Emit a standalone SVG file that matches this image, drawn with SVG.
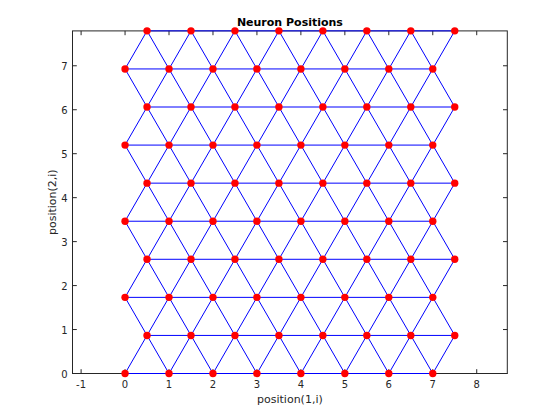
<svg xmlns="http://www.w3.org/2000/svg" width="560" height="420" viewBox="0 0 560 420">
<style>
text{font-family:"DejaVu Sans","Liberation Sans",sans-serif;fill:#262626}
.tk{font-size:10px}
.xt{text-anchor:middle}
.yt{text-anchor:end}
.lb{font-size:11px;text-anchor:middle}
.ttl{font-size:11px;font-weight:bold;text-anchor:middle;fill:#000}
.ax{stroke:#262626;stroke-width:1;fill:none}
.e{stroke:#0000ff;stroke-width:1;fill:none}
.n{fill:#ff0000}
</style>
<rect width="560" height="420" fill="#fff"/>
<g id="axes">
<rect class="ax" x="72.5" y="30.9" width="434.8" height="342.6"/>
<path class="ax" d="M81.1,373.5v-4.3M125.05,373.5v-4.3M169.01,373.5v-4.3M212.97,373.5v-4.3M256.93,373.5v-4.3M300.89,373.5v-4.3M344.85,373.5v-4.3M388.81,373.5v-4.3M432.77,373.5v-4.3M476.73,373.5v-4.3M81.1,30.9v4.3M125.05,30.9v4.3M169.01,30.9v4.3M212.97,30.9v4.3M256.93,30.9v4.3M300.89,30.9v4.3M344.85,30.9v4.3M388.81,30.9v4.3M432.77,30.9v4.3M476.73,30.9v4.3M72.5,373.5h4.3M72.5,329.54h4.3M72.5,285.58h4.3M72.5,241.62h4.3M72.5,197.66h4.3M72.5,153.7h4.3M72.5,109.74h4.3M72.5,65.78h4.3M507.3,373.5h-4.3M507.3,329.54h-4.3M507.3,285.58h-4.3M507.3,241.62h-4.3M507.3,197.66h-4.3M507.3,153.7h-4.3M507.3,109.74h-4.3M507.3,65.78h-4.3"/>
<g class="tk xt">
<text x="81.1" y="387.5">-1</text><text x="125.05" y="387.5">0</text><text x="169.01" y="387.5">1</text><text x="212.97" y="387.5">2</text><text x="256.93" y="387.5">3</text><text x="300.89" y="387.5">4</text><text x="344.85" y="387.5">5</text><text x="388.81" y="387.5">6</text><text x="432.77" y="387.5">7</text><text x="476.73" y="387.5">8</text>
</g>
<g class="tk yt">
<text x="67.5" y="377.5">0</text><text x="67.5" y="333.5">1</text><text x="67.5" y="289.6">2</text><text x="67.5" y="245.6">3</text><text x="67.5" y="201.7">4</text><text x="67.5" y="157.7">5</text><text x="67.5" y="113.7">6</text><text x="67.5" y="69.8">7</text>
</g>
<text class="ttl" x="289.9" y="25.7">Neuron Positions</text>
<text class="lb" x="289.9" y="403">position(1,i)</text>
<text class="lb" transform="translate(55.5,202.2) rotate(-90)">position(2,i)</text>
</g>
<g id="connectors" class="e">
<path d="M125.05,373.5H432.77M147.03,335.43H454.75M125.05,297.36H432.77M147.03,259.29H454.75M125.05,221.22H432.77M147.03,183.15H454.75M125.05,145.08H432.77M147.03,107.01H454.75M125.05,68.94H432.77M147.03,30.87H454.75"/>
<polyline points="125.05,373.5 147.03,335.43 169.01,373.5 190.99,335.43 212.97,373.5 234.95,335.43 256.93,373.5 278.91,335.43 300.89,373.5 322.87,335.43 344.85,373.5 366.83,335.43 388.81,373.5 410.79,335.43 432.77,373.5 454.75,335.43"/>
<polyline points="125.05,297.36 147.03,335.43 169.01,297.36 190.99,335.43 212.97,297.36 234.95,335.43 256.93,297.36 278.91,335.43 300.89,297.36 322.87,335.43 344.85,297.36 366.83,335.43 388.81,297.36 410.79,335.43 432.77,297.36 454.75,335.43"/>
<polyline points="125.05,297.36 147.03,259.29 169.01,297.36 190.99,259.29 212.97,297.36 234.95,259.29 256.93,297.36 278.91,259.29 300.89,297.36 322.87,259.29 344.85,297.36 366.83,259.29 388.81,297.36 410.79,259.29 432.77,297.36 454.75,259.29"/>
<polyline points="125.05,221.22 147.03,259.29 169.01,221.22 190.99,259.29 212.97,221.22 234.95,259.29 256.93,221.22 278.91,259.29 300.89,221.22 322.87,259.29 344.85,221.22 366.83,259.29 388.81,221.22 410.79,259.29 432.77,221.22 454.75,259.29"/>
<polyline points="125.05,221.22 147.03,183.15 169.01,221.22 190.99,183.15 212.97,221.22 234.95,183.15 256.93,221.22 278.91,183.15 300.89,221.22 322.87,183.15 344.85,221.22 366.83,183.15 388.81,221.22 410.79,183.15 432.77,221.22 454.75,183.15"/>
<polyline points="125.05,145.08 147.03,183.15 169.01,145.08 190.99,183.15 212.97,145.08 234.95,183.15 256.93,145.08 278.91,183.15 300.89,145.08 322.87,183.15 344.85,145.08 366.83,183.15 388.81,145.08 410.79,183.15 432.77,145.08 454.75,183.15"/>
<polyline points="125.05,145.08 147.03,107.01 169.01,145.08 190.99,107.01 212.97,145.08 234.95,107.01 256.93,145.08 278.91,107.01 300.89,145.08 322.87,107.01 344.85,145.08 366.83,107.01 388.81,145.08 410.79,107.01 432.77,145.08 454.75,107.01"/>
<polyline points="125.05,68.94 147.03,107.01 169.01,68.94 190.99,107.01 212.97,68.94 234.95,107.01 256.93,68.94 278.91,107.01 300.89,68.94 322.87,107.01 344.85,68.94 366.83,107.01 388.81,68.94 410.79,107.01 432.77,68.94 454.75,107.01"/>
<polyline points="125.05,68.94 147.03,30.87 169.01,68.94 190.99,30.87 212.97,68.94 234.95,30.87 256.93,68.94 278.91,30.87 300.89,68.94 322.87,30.87 344.85,68.94 366.83,30.87 388.81,68.94 410.79,30.87 432.77,68.94 454.75,30.87"/>
</g>
<g id="nodes" class="n">
<g id="row0"><circle id="n0_0" cx="125.05" cy="373.5" r="3.7"/><circle id="n0_1" cx="169.01" cy="373.5" r="3.7"/><circle id="n0_2" cx="212.97" cy="373.5" r="3.7"/><circle id="n0_3" cx="256.93" cy="373.5" r="3.7"/><circle id="n0_4" cx="300.89" cy="373.5" r="3.7"/><circle id="n0_5" cx="344.85" cy="373.5" r="3.7"/><circle id="n0_6" cx="388.81" cy="373.5" r="3.7"/><circle id="n0_7" cx="432.77" cy="373.5" r="3.7"/></g>
<g id="row1"><circle id="n1_0" cx="147.03" cy="335.43" r="3.7"/><circle id="n1_1" cx="190.99" cy="335.43" r="3.7"/><circle id="n1_2" cx="234.95" cy="335.43" r="3.7"/><circle id="n1_3" cx="278.91" cy="335.43" r="3.7"/><circle id="n1_4" cx="322.87" cy="335.43" r="3.7"/><circle id="n1_5" cx="366.83" cy="335.43" r="3.7"/><circle id="n1_6" cx="410.79" cy="335.43" r="3.7"/><circle id="n1_7" cx="454.75" cy="335.43" r="3.7"/></g>
<g id="row2"><circle id="n2_0" cx="125.05" cy="297.36" r="3.7"/><circle id="n2_1" cx="169.01" cy="297.36" r="3.7"/><circle id="n2_2" cx="212.97" cy="297.36" r="3.7"/><circle id="n2_3" cx="256.93" cy="297.36" r="3.7"/><circle id="n2_4" cx="300.89" cy="297.36" r="3.7"/><circle id="n2_5" cx="344.85" cy="297.36" r="3.7"/><circle id="n2_6" cx="388.81" cy="297.36" r="3.7"/><circle id="n2_7" cx="432.77" cy="297.36" r="3.7"/></g>
<g id="row3"><circle id="n3_0" cx="147.03" cy="259.29" r="3.7"/><circle id="n3_1" cx="190.99" cy="259.29" r="3.7"/><circle id="n3_2" cx="234.95" cy="259.29" r="3.7"/><circle id="n3_3" cx="278.91" cy="259.29" r="3.7"/><circle id="n3_4" cx="322.87" cy="259.29" r="3.7"/><circle id="n3_5" cx="366.83" cy="259.29" r="3.7"/><circle id="n3_6" cx="410.79" cy="259.29" r="3.7"/><circle id="n3_7" cx="454.75" cy="259.29" r="3.7"/></g>
<g id="row4"><circle id="n4_0" cx="125.05" cy="221.22" r="3.7"/><circle id="n4_1" cx="169.01" cy="221.22" r="3.7"/><circle id="n4_2" cx="212.97" cy="221.22" r="3.7"/><circle id="n4_3" cx="256.93" cy="221.22" r="3.7"/><circle id="n4_4" cx="300.89" cy="221.22" r="3.7"/><circle id="n4_5" cx="344.85" cy="221.22" r="3.7"/><circle id="n4_6" cx="388.81" cy="221.22" r="3.7"/><circle id="n4_7" cx="432.77" cy="221.22" r="3.7"/></g>
<g id="row5"><circle id="n5_0" cx="147.03" cy="183.15" r="3.7"/><circle id="n5_1" cx="190.99" cy="183.15" r="3.7"/><circle id="n5_2" cx="234.95" cy="183.15" r="3.7"/><circle id="n5_3" cx="278.91" cy="183.15" r="3.7"/><circle id="n5_4" cx="322.87" cy="183.15" r="3.7"/><circle id="n5_5" cx="366.83" cy="183.15" r="3.7"/><circle id="n5_6" cx="410.79" cy="183.15" r="3.7"/><circle id="n5_7" cx="454.75" cy="183.15" r="3.7"/></g>
<g id="row6"><circle id="n6_0" cx="125.05" cy="145.08" r="3.7"/><circle id="n6_1" cx="169.01" cy="145.08" r="3.7"/><circle id="n6_2" cx="212.97" cy="145.08" r="3.7"/><circle id="n6_3" cx="256.93" cy="145.08" r="3.7"/><circle id="n6_4" cx="300.89" cy="145.08" r="3.7"/><circle id="n6_5" cx="344.85" cy="145.08" r="3.7"/><circle id="n6_6" cx="388.81" cy="145.08" r="3.7"/><circle id="n6_7" cx="432.77" cy="145.08" r="3.7"/></g>
<g id="row7"><circle id="n7_0" cx="147.03" cy="107.01" r="3.7"/><circle id="n7_1" cx="190.99" cy="107.01" r="3.7"/><circle id="n7_2" cx="234.95" cy="107.01" r="3.7"/><circle id="n7_3" cx="278.91" cy="107.01" r="3.7"/><circle id="n7_4" cx="322.87" cy="107.01" r="3.7"/><circle id="n7_5" cx="366.83" cy="107.01" r="3.7"/><circle id="n7_6" cx="410.79" cy="107.01" r="3.7"/><circle id="n7_7" cx="454.75" cy="107.01" r="3.7"/></g>
<g id="row8"><circle id="n8_0" cx="125.05" cy="68.94" r="3.7"/><circle id="n8_1" cx="169.01" cy="68.94" r="3.7"/><circle id="n8_2" cx="212.97" cy="68.94" r="3.7"/><circle id="n8_3" cx="256.93" cy="68.94" r="3.7"/><circle id="n8_4" cx="300.89" cy="68.94" r="3.7"/><circle id="n8_5" cx="344.85" cy="68.94" r="3.7"/><circle id="n8_6" cx="388.81" cy="68.94" r="3.7"/><circle id="n8_7" cx="432.77" cy="68.94" r="3.7"/></g>
<g id="row9"><circle id="n9_0" cx="147.03" cy="30.87" r="3.7"/><circle id="n9_1" cx="190.99" cy="30.87" r="3.7"/><circle id="n9_2" cx="234.95" cy="30.87" r="3.7"/><circle id="n9_3" cx="278.91" cy="30.87" r="3.7"/><circle id="n9_4" cx="322.87" cy="30.87" r="3.7"/><circle id="n9_5" cx="366.83" cy="30.87" r="3.7"/><circle id="n9_6" cx="410.79" cy="30.87" r="3.7"/><circle id="n9_7" cx="454.75" cy="30.87" r="3.7"/></g>
</g>
</svg>
